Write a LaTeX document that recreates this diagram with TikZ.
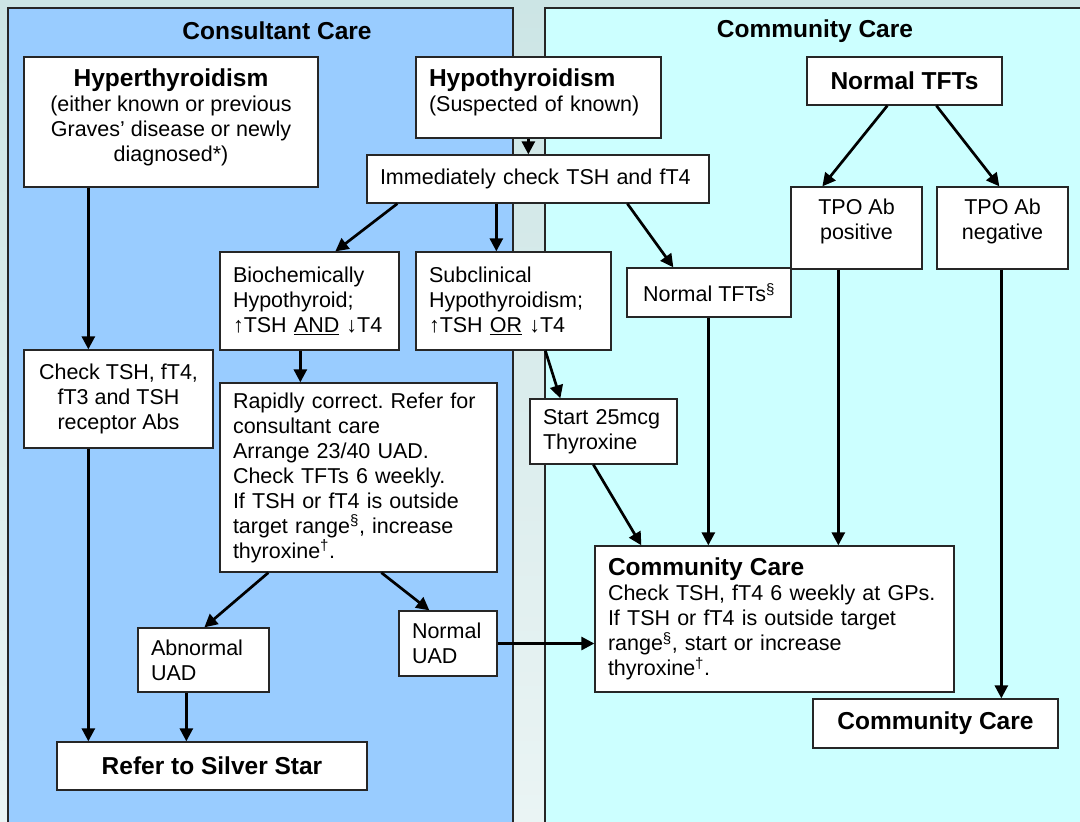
\documentclass[tikz,border=0pt]{standalone}
\usepackage{fontspec}
\setmainfont{Liberation Sans}
\usetikzlibrary{arrows.meta}

\definecolor{bgtop}{RGB}{204,229,229}
\definecolor{bgbottom}{RGB}{234,244,244}
\definecolor{consultblue}{HTML}{99CCFF}
\definecolor{communitycyan}{HTML}{CCFFFF}
\definecolor{edge}{HTML}{262626}

\newcommand{\bodyfont}{\fontsize{21.5}{25}\selectfont\frenchspacing}
\newcommand{\titlefont}{\fontsize{24.5}{25}\selectfont\bfseries}

\tikzset{
  panel/.style={draw=edge, line width=1.3pt},
  head/.style={font=\titlefont, inner sep=0pt},
  box/.style={draw=edge, fill=white, line width=1.3pt, inner xsep=13pt, inner ysep=2pt, font=\bodyfont},
  lbox/.style={box, align=left},
  cbox/.style={box, align=center},
  arr/.style={line width=2.7pt, -{Triangle[length=13pt,width=13pt]}}
}

\begin{document}
\begin{tikzpicture}[x=1pt, y=-1pt]

\useasboundingbox (0,0) rectangle (1080,822);
\clip (0,0) rectangle (1080,822);

% Background and the two care panels
\shade[top color=bgtop, bottom color=bgbottom] (0,0) rectangle (1080,822);
\draw[panel, fill=consultblue] (8,8) rectangle (513,840);
\draw[panel, fill=communitycyan] (545,8) rectangle (1100,840);
\node[head] (conshead) at (277,31) {Consultant Care};
\node[head] (commhead) at (815,31) {Community Care};

% Starting points
\node[cbox, text height=84pt, minimum width=294pt, minimum height=130pt] (hyper) at (171,122)
  {{\titlefont Hyperthyroidism}\\(either known or previous\\Graves’ disease or newly\\diagnosed*)};
\node[lbox, text height=8pt, text width=219pt, minimum height=81pt] (hypo) at (538.5,97.5)
  {{\titlefont Hypothyroidism}\\(Suspected of known)};
\node[cbox, font=\titlefont, minimum width=195pt, minimum height=48pt] (normtft) at (904.5,81) {Normal TFTs};

% Tests
\node[lbox, text width=316pt, minimum height=48pt] (immed) at (538,179) {Immediately check TSH and fT4};
\node[cbox, text height=28pt, minimum width=131pt, minimum height=82pt] (tpopos) at (856.5,228) {TPO Ab\\positive};
\node[cbox, text height=28pt, minimum width=131pt, minimum height=82pt] (tponeg) at (1002.5,228) {TPO Ab\\negative};
\node[cbox, minimum width=189pt, minimum height=98pt] (chk) at (118.5,399) {Check TSH, fT4,\\fT3 and TSH\\receptor Abs};

% Results of TSH and fT4
\node[lbox, text width=153pt, minimum height=98pt] (bio) at (309.5,301)
  {Biochemically\\Hypothyroid;\\↑TSH \underline{AND} ↓T4};
\node[lbox, text width=169pt, minimum height=98pt] (subc) at (513.5,301)
  {Subclinical\\Hypothyroidism;\\↑TSH \underline{OR} ↓T4};
\node[cbox, minimum width=164pt, minimum height=49pt] (normsec) at (709,292.5) {Normal TFTs\textsuperscript{\S}};

% Treatment
\node[lbox, text width=251pt, minimum height=189pt] (rapid) at (358.5,477.5)
  {Rapidly correct. Refer for\\consultant care\\Arrange 23/40 UAD.\\Check TFTs 6 weekly.\\If TSH or fT4 is outside\\target range\textsuperscript{\S}, increase\\thyroxine\textsuperscript{\dag}.};
\node[lbox, text width=121pt, minimum height=65pt] (start) at (603.5,431.5) {Start 25mcg\\Thyroxine};
\node[lbox, text width=105pt, minimum height=64pt] (abn) at (203.5,660) {Abnormal\\UAD};
\node[lbox, text width=72pt, minimum height=65pt] (nuad) at (448,643.5) {Normal\\UAD};

% Outcomes
\node[cbox, font=\titlefont, minimum width=310pt, minimum height=48pt] (refer) at (212,766) {Refer to Silver Star};
\node[lbox, text width=333pt, minimum height=146pt] (comm) at (774.5,619)
  {{\titlefont Community Care}\\Check TSH, fT4 6 weekly at GPs.\\If TSH or fT4 is outside target\\range\textsuperscript{\S}, start or increase\\thyroxine\textsuperscript{\dag}.};
\node[cbox, font=\titlefont, minimum width=245pt, minimum height=49pt] (commend) at (935.5,723.5) {Community Care};

% Consultant side
\draw[arr] ([xshift=65pt]hyper.south west) -- ([xshift=65pt]chk.north west);
\draw[arr] ([xshift=65pt]chk.south west) -- ([xshift=32pt]refer.north west);
\draw[arr] ([xshift=113pt]hypo.south west) -- ([xshift=162pt]immed.north west);
\draw[arr] ([xshift=31pt]immed.south west) -- ([xshift=116pt]bio.north west);
\draw[arr] ([xshift=130pt]immed.south west) -- ([xshift=81pt]subc.north west);
\draw[arr] ([xshift=81pt]bio.south west) -- ([xshift=81pt]rapid.north west);
\draw[arr] ([xshift=49pt]rapid.south west) -- ([xshift=67pt]abn.north west);
\draw[arr] ([xshift=162pt]rapid.south west) -- ([xshift=31pt]nuad.north west);
\draw[arr] ([xshift=49pt]abn.south west) -- ([xshift=130pt]refer.north west);

% Community side
\draw[arr] ([xshift=261pt]immed.south west) -- ([xshift=47pt]normsec.north west);
\draw[arr] ([xshift=81pt]normtft.south west) -- ([xshift=32pt]tpopos.north west);
\draw[arr] ([xshift=130pt]normtft.south west) -- ([xshift=63pt]tponeg.north west);
\draw[arr] ([xshift=130pt]subc.south west) -- ([xshift=31pt]start.north west);
\draw[arr] (nuad.east) -- (nuad.east -| comm.west);
\draw[arr] ([xshift=64pt]start.south west) -- ([xshift=47pt]comm.north west);
\draw[arr] ([xshift=82pt]normsec.south west) -- ([xshift=114pt]comm.north west);
\draw[arr] ([xshift=48pt]tpopos.south west) -- ([xshift=244pt]comm.north west);
\draw[arr] ([xshift=65pt]tponeg.south west) -- ([xshift=189pt]commend.north west);

\end{tikzpicture}
\end{document}
